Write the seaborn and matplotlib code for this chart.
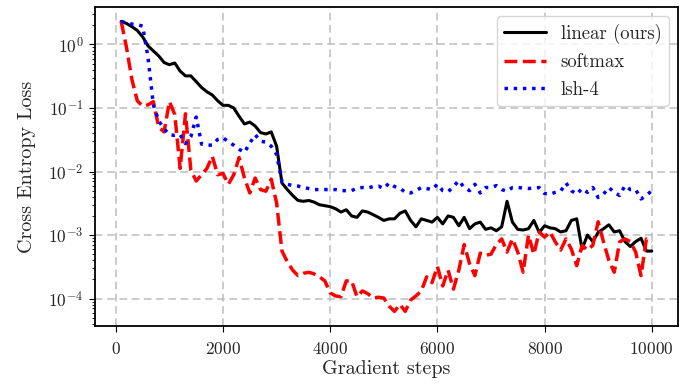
import numpy as np
import pandas as pd
import matplotlib
matplotlib.use("Agg")
import matplotlib.pyplot as plt
import seaborn as sns

#%% Data

steps = np.arange(100, 10001, 100)

linear = [2.3, 2.14, 1.9, 1.66, 1.32, 0.95, 0.79, 0.66, 0.52, 0.48,
          0.51, 0.38, 0.32, 0.32, 0.26, 0.21, 0.18, 0.16, 0.13, 0.11,
          0.11, 0.1, 0.074, 0.056, 0.06, 0.052, 0.041, 0.039, 0.042, 0.025,
          0.0066, 0.0052, 0.0042, 0.0035, 0.0034, 0.0035, 0.0033, 0.003, 0.0029, 0.0028,
          0.0026, 0.0023, 0.0025, 0.002, 0.0019, 0.0024, 0.0023, 0.0021, 0.0019, 0.0017,
          0.0018, 0.0018, 0.0022, 0.0024, 0.0017, 0.00135, 0.0018, 0.0017, 0.0016, 0.0019,
          0.0015, 0.002, 0.0019, 0.0014, 0.0019, 0.00126, 0.0015, 0.0016, 0.00123, 0.0013,
          0.00117, 0.00135, 0.0034, 0.0016, 0.00123, 0.0012, 0.00126, 0.0017, 0.0011, 0.0014,
          0.0013, 0.00126, 0.00112, 0.00117, 0.0017, 0.0018, 0.0006, 0.001, 0.00079, 0.0011,
          0.00126, 0.00145, 0.00112, 0.00117, 0.00079, 0.00066, 0.00079, 0.00089, 0.00056, 0.00056]

softmax = [2.3, 0.89, 0.28, 0.13, 0.107, 0.112, 0.126, 0.05, 0.042, 0.126,
           0.079, 0.0112, 0.081, 0.0105, 0.0071, 0.0089, 0.0112, 0.0174, 0.0089, 0.0093,
           0.0063, 0.0089, 0.0166, 0.0079, 0.0046, 0.0079, 0.0052, 0.0049, 0.0076, 0.0032,
           0.00056, 0.00038, 0.00028, 0.00023, 0.00025, 0.00026, 0.000245, 0.00022, 0.00019, 0.000123,
           0.00011, 0.000107, 0.00019, 0.00019, 0.000107, 0.000132, 0.00012, 0.000102, 0.000105, 0.000102,
           0.000076, 0.000063, 0.000081, 0.000063, 0.000095, 0.00011, 0.000132, 0.00022, 0.000178, 0.00032,
           0.000158, 0.00028, 0.000141, 0.00028, 0.00071, 0.000355, 0.00023, 0.00052, 0.00048, 0.0005,
           0.00071, 0.00087, 0.00054, 0.00087, 0.00054, 0.00026, 0.001, 0.0005, 0.00112, 0.00093,
           0.00112, 0.00078, 0.00058, 0.00087, 0.0006, 0.00033, 0.00069, 0.00058, 0.00069, 0.00162,
           0.00078, 0.0004, 0.00026, 0.00078, 0.00087, 0.00079, 0.00054, 0.00023, 0.00087, 0.00078]

lsh4 = [2.3, 2.19, 2.09, 2.04, 1.95, 0.63, 0.112, 0.063, 0.047, 0.038,
        0.037, 0.038, 0.0275, 0.0355, 0.072, 0.027, 0.026, 0.026, 0.032, 0.034,
        0.0295, 0.026, 0.0224, 0.02, 0.028, 0.038, 0.03, 0.029, 0.025, 0.0186,
        0.0069, 0.0063, 0.006, 0.0059, 0.0056, 0.0054, 0.0052, 0.0052, 0.0052, 0.0052,
        0.0052, 0.005, 0.005, 0.005, 0.0055, 0.0056, 0.0055, 0.0058, 0.0059, 0.0054,
        0.0066, 0.0058, 0.0055, 0.0047, 0.0046, 0.005, 0.0056, 0.0054, 0.0052, 0.0063,
        0.005, 0.0048, 0.0058, 0.0072, 0.0056, 0.005, 0.0063, 0.0046, 0.0056, 0.0056,
        0.006, 0.0052, 0.0049, 0.0056, 0.0056, 0.0055, 0.0054, 0.0055, 0.0056, 0.0045,
        0.0044, 0.0047, 0.0049, 0.0066, 0.005, 0.0044, 0.0054, 0.0047, 0.0056, 0.0039,
        0.0044, 0.0056, 0.0047, 0.0042, 0.006, 0.0052, 0.0052, 0.0037, 0.0042, 0.005]

df = pd.DataFrame({'step': steps, 'linear (ours)': linear,
                   'softmax': softmax, 'lsh-4': lsh4})

#%% Style

sns.set_style('ticks')
plt.rcParams['font.family'] = ['cmr10', 'DejaVu Serif']
plt.rcParams['mathtext.fontset'] = 'cm'
plt.rcParams['axes.formatter.use_mathtext'] = True
plt.rcParams['axes.unicode_minus'] = False

#%% Plot

fig, ax = plt.subplots(figsize=(6.81, 3.87), dpi=100)
fig.subplots_adjust(left=0.139, right=0.996, top=0.982, bottom=0.158)

sns.lineplot(data=df, x='step', y='linear (ours)', color='black', linewidth=2.2,
             label='linear (ours)', ax=ax)
sns.lineplot(data=df, x='step', y='softmax', color='red', linewidth=2.5,
             linestyle='--', label='softmax', ax=ax)
sns.lineplot(data=df, x='step', y='lsh-4', color='blue', linewidth=2.5,
             linestyle=':', label='lsh-4', ax=ax)

# log y with default margins
ax.set_yscale('log')
ax.set_xticks([0, 2000, 4000, 6000, 8000, 10000])
ax.grid(True, which='major', linestyle=(0, (5, 3)), color='#bdbdbd', linewidth=1.1)
ax.set_axisbelow(True)

for s in ax.spines.values():
    s.set_color('black')
    s.set_linewidth(1.3)
ax.tick_params(which='both', direction='out', color='black', labelsize=12.5)
ax.tick_params(axis='x', which='major', length=4, pad=7)
ax.tick_params(axis='y', which='major', length=4, pad=4)
ax.tick_params(which='minor', length=2)

ax.set_xlabel('Gradient steps', fontsize=14.5, labelpad=2)
ax.set_ylabel('Cross Entropy Loss', fontsize=14.5, labelpad=9)

ax.legend(loc='upper right', fontsize=13.5, frameon=True, fancybox=True,
          edgecolor='#cccccc', framealpha=0.8, handlelength=2.2,
          borderaxespad=0.5)

fig.savefig('out.png', dpi=100)
